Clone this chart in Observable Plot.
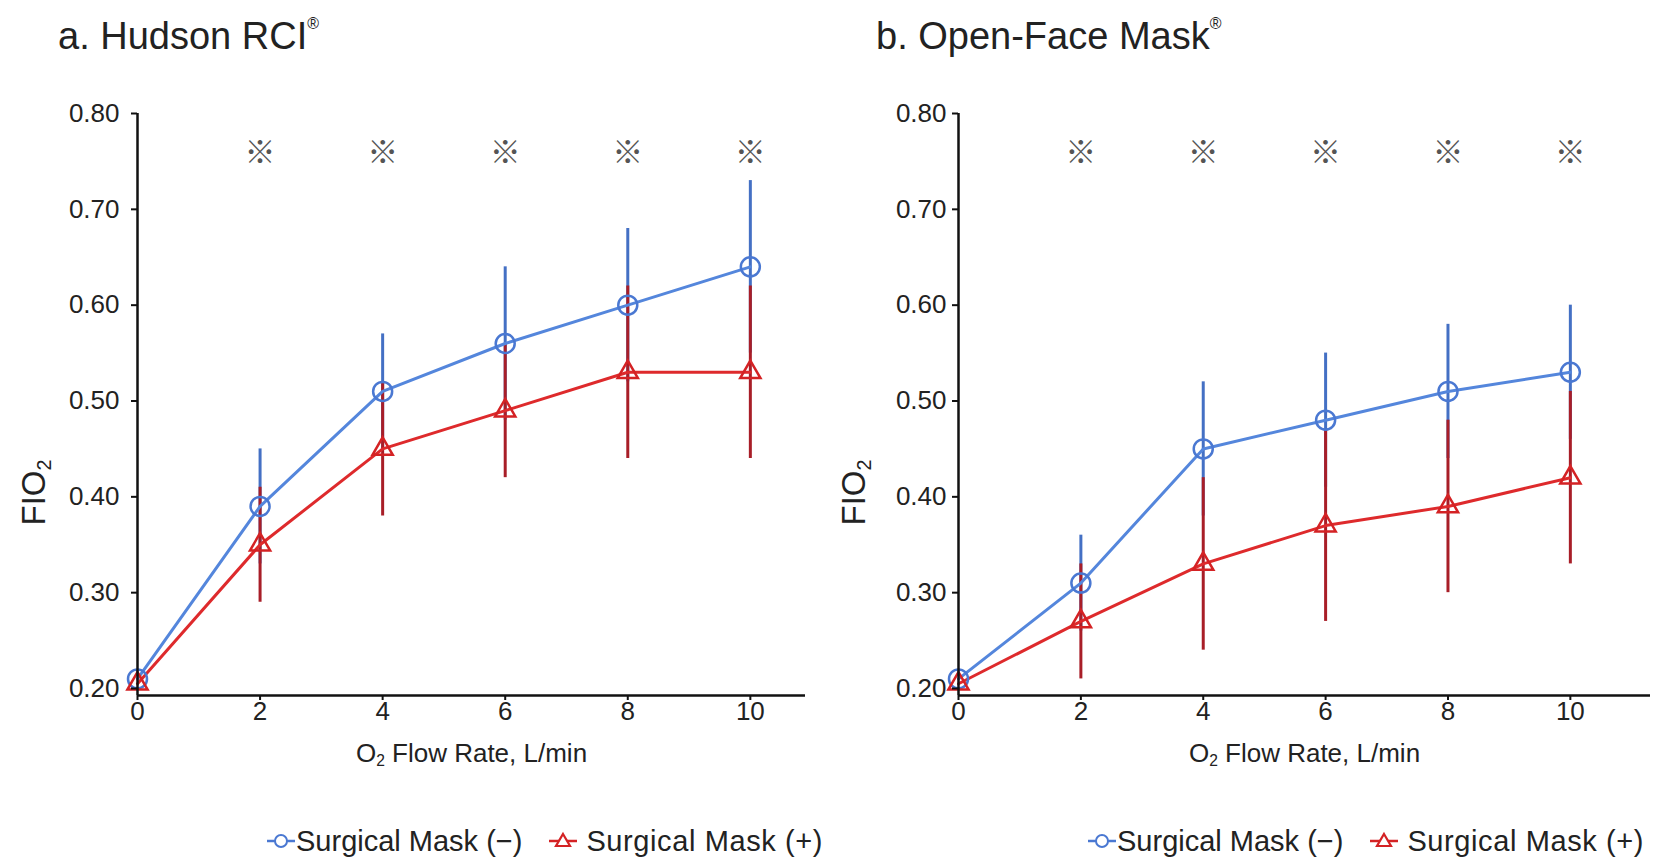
<!DOCTYPE html>
<html><head><meta charset="utf-8">
<script src="https://cdn.jsdelivr.net/npm/d3@7"></script>
<script src="https://cdn.jsdelivr.net/npm/@observablehq/plot@0.6"></script>
<style>
body{margin:0;background:#fff;}
#root{position:relative;width:1671px;height:860px;overflow:hidden;font-family:"Liberation Sans",Arial,sans-serif;color:#222;background:#fff;}
.title{position:absolute;font-size:38px;white-space:nowrap;line-height:1;}
.title sup{font-size:42%;position:relative;top:-1px;vertical-align:top;}
.panel{position:absolute;top:80px;}
.legend{position:absolute;top:825px;height:32px;display:flex;align-items:center;font-size:29px;white-space:nowrap;color:#222;}
.legend svg{display:block;}
</style></head><body>
<div id="root">
  <div class="title" style="left:58px;top:17px;">a. Hudson RCI<sup>®</sup></div>
  <div class="title" style="left:876px;top:17px;">b. Open-Face Mask<sup>®</sup></div>
  <div class="panel" id="p1" style="left:0px;"></div>
  <div class="panel" id="p2" style="left:835px;"></div>
  <div class="legend" id="lg1" style="left:266px;"></div>
  <div class="legend" id="lg2" style="left:1087px;"></div>
</div>
<script>
// ---- data ----
const flowRate = [0, 2, 4, 6, 8, 10];
const seriesNames = ["Surgical Mask (\u2212)", "Surgical Mask (+)"];
// a. Hudson RCI
const hudsonMinus   = [0.21, 0.39, 0.51, 0.56, 0.60, 0.64];
const hudsonMinusSD = [0.00, 0.06, 0.06, 0.08, 0.08, 0.09];
const hudsonPlus    = [0.205, 0.35, 0.45, 0.49, 0.53, 0.53];
const hudsonPlusSD  = [0.00, 0.06, 0.07, 0.07, 0.09, 0.09];
// b. Open-Face Mask
const openMinus   = [0.21, 0.31, 0.45, 0.48, 0.51, 0.53];
const openMinusSD = [0.00, 0.05, 0.07, 0.07, 0.07, 0.07];
const openPlus    = [0.205, 0.27, 0.33, 0.37, 0.39, 0.42];
const openPlusSD  = [0.00, 0.06, 0.09, 0.10, 0.09, 0.09];
// significance marks
const sigFlows = [2, 4, 6, 8, 10];
const sigLevel = 0.759;
// ticks
const xTicks = [0, 2, 4, 6, 8, 10];
const yTicks = [0.20, 0.30, 0.40, 0.50, 0.60, 0.70, 0.80];
const xLabelParts = ["O", "2", " Flow Rate, L/min"];
const yLabelParts = ["FIO", "2", ""];

const blueLine = "#5486dc", blueBar = "#4470c4", blueDot = "#4a78d2";
const redLine = "#de2a2c", redBar = "#a81e28", redDot = "#d42224";
const font = "'Liberation Sans', Arial, sans-serif";
const SVGNS = "http://www.w3.org/2000/svg";

function rows(vals, sds) {
  return flowRate.map((x, i) => ({x, y: vals[i], lo: vals[i] - sds[i], hi: vals[i] + sds[i]}));
}

function subscriptText(textEl, parts) {
  if (!textEl) return;
  while (textEl.firstChild) textEl.removeChild(textEl.firstChild);
  const a = document.createElementNS(SVGNS, "tspan"); a.textContent = parts[0];
  const b = document.createElementNS(SVGNS, "tspan"); b.textContent = parts[1];
  b.setAttribute("dy", "0.3em"); b.setAttribute("font-size", "0.6em");
  textEl.appendChild(a); textEl.appendChild(b);
  if (parts[2]) {
    const c = document.createElementNS(SVGNS, "tspan"); c.textContent = parts[2];
    c.setAttribute("dy", "-0.18em");
    textEl.appendChild(c);
  }
}

function panel(minus, minusSD, plus, plusSD, o) {
  const m = rows(minus, minusSD), p = rows(plus, plusSD);
  const yMin = 0.1927;
  const svg = Plot.plot({
    width: o.width, height: 720,
    marginLeft: o.marginLeft, marginRight: o.marginRight, marginTop: 33, marginBottom: 105,
    x: {domain: [0, o.xMax]},
    y: {domain: [yMin, 0.80]},
    style: {fontFamily: font, fontSize: "26px", color: "#222", background: "transparent", overflow: "visible"},
    marks: [
      Plot.ruleX(m, {x: "x", y1: "lo", y2: "hi", stroke: blueBar, strokeWidth: 3}),
      Plot.ruleX(p, {x: "x", y1: "lo", y2: "hi", stroke: redBar, strokeWidth: 3}),
      Plot.line(m, {x: "x", y: "y", stroke: blueLine, strokeWidth: 3}),
      Plot.line(p, {x: "x", y: "y", stroke: redLine, strokeWidth: 3}),
      Plot.dot(m, {x: "x", y: "y", r: 9.5, stroke: blueDot, strokeWidth: 2.5, fill: "none"}),
      Plot.dot(p, {x: "x", y: "y", symbol: "triangle", r: 7.5, stroke: redDot, strokeWidth: 2.5, fill: "none"}),
      Plot.text(sigFlows, {x: d => d, y: () => sigLevel, text: () => "\u203B", fontSize: 31, fill: "#555", fontFamily: "'Noto Sans CJK JP', 'DejaVu Sans', sans-serif"}),
      Plot.ruleX([0], {stroke: "#111", strokeWidth: 2.5}),
      Plot.ruleY([yMin], {stroke: "#111", strokeWidth: 2.5}),
      Plot.axisX({ticks: xTicks, tickSize: 5, tickPadding: 1, fontSize: 26, label: null, stroke: "#111", strokeWidth: 2}),
      Plot.axisY({ticks: yTicks, tickFormat: d3.format(".2f"), tickSize: 6, tickPadding: o.yPad, fontSize: 26, label: null, stroke: "#111", strokeWidth: 2}),
      Plot.text([xLabelParts.join("")], {frameAnchor: "bottom", dy: 66, fontSize: 26, fill: "#222", ariaLabel: "xlabel"}),
      Plot.text([yLabelParts.join("")], {frameAnchor: "left", textAnchor: "middle", dx: o.yLabelDx, dy: 88, rotate: -90, fontSize: 33, fill: "#222", ariaLabel: "ylabel"})
    ]
  });
  const find = (s) => Array.from(svg.querySelectorAll("text")).find(t => t.textContent === s);
  subscriptText(find(xLabelParts.join("")), xLabelParts);
  subscriptText(find(yLabelParts.join("")), yLabelParts);
  return svg;
}

document.getElementById("p1").appendChild(panel(hudsonMinus, hudsonMinusSD, hudsonPlus, hudsonPlusSD,
  {width: 835, marginLeft: 137, marginRight: 30, xMax: 10.9, yPad: 12, yLabelDx: -103}));
document.getElementById("p2").appendChild(panel(openMinus, openMinusSD, openPlus, openPlusSD,
  {width: 836, marginLeft: 123, marginRight: 21, xMax: 11.31, yPad: 6, yLabelDx: -104}));

function legend(el) {
  const sym = (color, kind) => {
    const shape = kind === "circle"
      ? `<circle cx="15" cy="12" r="6" fill="#fff" stroke="${color}" stroke-width="2"/>`
      : `<path d="M15,5 L22,17 L8,17 Z" fill="#fff" stroke="${color}" stroke-width="2.2"/>`;
    return `<svg width="30" height="24"><line x1="1" y1="12" x2="29" y2="12" stroke="${color}" stroke-width="2.5"/>${shape}</svg>`;
  };
  el.innerHTML = `${sym(blueDot, "circle")}<span>${seriesNames[0]}</span><span style="display:inline-block;width:26px"></span>${sym(redDot, "tri")}<span style="margin-left:8px;letter-spacing:0.6px">${seriesNames[1]}</span>`;
}
legend(document.getElementById("lg1"));
legend(document.getElementById("lg2"));
</script>
</body></html>
